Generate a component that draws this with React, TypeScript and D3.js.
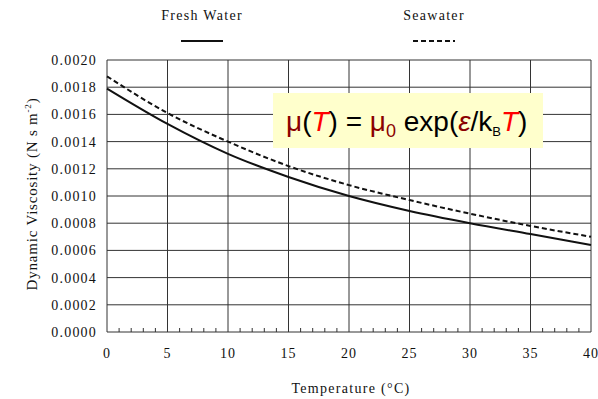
import React, { useRef, useEffect } from 'react';
import * as d3 from 'd3';

// temperature (°C)
const temps = [0, 5, 10, 15, 20, 25, 30, 35, 40];
// dynamic viscosity (N s m^-2)
const freshWater = [0.00179, 0.00153, 0.00131, 0.00114, 0.00100, 0.00089, 0.00080, 0.00072, 0.00064];
const seawater = [0.00188, 0.00161, 0.00140, 0.00122, 0.00108, 0.00097, 0.00087, 0.00078, 0.00070];
const yTicks = [0, 0.0002, 0.0004, 0.0006, 0.0008, 0.001, 0.0012, 0.0014, 0.0016, 0.0018, 0.002];
const xTicks = [0, 5, 10, 15, 20, 25, 30, 35, 40];

const W = 598;
const H = 399;
const serif = '"Liberation Serif", "Times New Roman", serif';

const App = () => {
  const ref = useRef<SVGSVGElement>(null);

  useEffect(() => {
    const svg = d3.select(ref.current);
    svg.selectAll('*').remove();

    const x = d3.scaleLinear().domain([0, 40]).range([107, 591]);
    const y = d3.scaleLinear().domain([0, 0.002]).range([332, 60]);

    svg.append('rect').attr('width', W).attr('height', H).attr('fill', '#fff');

    // grid
    svg.selectAll('.hgrid')
      .data(yTicks)
      .enter()
      .append('line')
      .attr('x1', x(0)).attr('x2', x(40))
      .attr('y1', d => y(d)).attr('y2', d => y(d))
      .attr('stroke', '#333').attr('stroke-width', 1);

    svg.selectAll('.vgrid')
      .data(xTicks)
      .enter()
      .append('line')
      .attr('x1', d => x(d)).attr('x2', d => x(d))
      .attr('y1', y(0)).attr('y2', y(0.002))
      .attr('stroke', '#333').attr('stroke-width', 1);

    // minor ticks on the bottom axis
    svg.selectAll('.minor')
      .data(d3.range(0, 41, 1).filter(d => d % 5 !== 0))
      .enter()
      .append('line')
      .attr('x1', d => x(d)).attr('x2', d => x(d))
      .attr('y1', y(0)).attr('y2', y(0) - 4)
      .attr('stroke', '#333').attr('stroke-width', 1);

    // tick labels
    svg.selectAll('.ylab')
      .data(yTicks)
      .enter()
      .append('text')
      .attr('x', 97)
      .attr('y', d => y(d) + 5)
      .attr('text-anchor', 'end')
      .attr('font-family', serif)
      .attr('font-size', 14)
      .attr('letter-spacing', 1.2)
      .attr('fill', '#111')
      .text(d => d.toFixed(4));

    svg.selectAll('.xlab')
      .data(xTicks)
      .enter()
      .append('text')
      .attr('x', d => x(d))
      .attr('y', 358)
      .attr('text-anchor', 'middle')
      .attr('font-family', serif)
      .attr('font-size', 14)
      .attr('letter-spacing', 1)
      .attr('fill', '#111')
      .text(d => d);

    // axis titles
    svg.append('text')
      .attr('x', 351).attr('y', 393)
      .attr('text-anchor', 'middle')
      .attr('font-family', serif)
      .attr('font-size', 14)
      .attr('letter-spacing', 1.3)
      .attr('fill', '#111')
      .text('Temperature (°C)');

    const yt = svg.append('text')
      .attr('transform', 'translate(37,194) rotate(-90)')
      .attr('text-anchor', 'middle')
      .attr('font-family', serif)
      .attr('font-size', 15)
      .attr('letter-spacing', 0.8)
      .attr('fill', '#111');
    yt.append('tspan').text('Dynamic Viscosity (N s m');
    yt.append('tspan').attr('dy', -6).attr('font-size', 9).text('-2');
    yt.append('tspan').attr('dy', 6).text(')');

    // curves
    const line = d3.line<number>()
      .x((d, i) => x(temps[i]))
      .y(d => y(d))
      .curve(d3.curveMonotoneX);

    svg.append('path')
      .datum(seawater)
      .attr('d', line)
      .attr('fill', 'none')
      .attr('stroke', '#111')
      .attr('stroke-width', 2)
      .attr('stroke-dasharray', '5,3');

    svg.append('path')
      .datum(freshWater)
      .attr('d', line)
      .attr('fill', 'none')
      .attr('stroke', '#111')
      .attr('stroke-width', 2);

    // legend
    const legend = [
      { label: 'Fresh Water', cx: 202, dash: null },
      { label: 'Seawater', cx: 434, dash: '5,3' },
    ];
    legend.forEach(l => {
      svg.append('text')
        .attr('x', l.cx).attr('y', 20)
        .attr('text-anchor', 'middle')
        .attr('font-family', serif)
        .attr('font-size', 14)
        .attr('letter-spacing', 1.3)
        .attr('fill', '#111')
        .text(l.label);
      svg.append('line')
        .attr('x1', l.cx - 21).attr('x2', l.cx + 21)
        .attr('y1', 41).attr('y2', 41)
        .attr('stroke', '#111').attr('stroke-width', 2)
        .attr('stroke-dasharray', l.dash);
    });

    // formula box
    svg.append('rect')
      .attr('x', 273).attr('y', 93)
      .attr('width', 270).attr('height', 55)
      .attr('fill', '#ffffcc');

    const dark = '#8b0000';
    const red = '#ff0000';
    const f = svg.append('text')
      .attr('x', 286).attr('y', 131)
      .attr('font-family', 'Arial, "Liberation Sans", sans-serif')
      .attr('font-size', 28)
      .attr('fill', '#000');
    f.append('tspan').attr('fill', dark).text('μ');
    f.append('tspan').text('(');
    f.append('tspan').attr('fill', red).attr('font-style', 'italic').text('T');
    f.append('tspan').text(') = ');
    f.append('tspan').attr('fill', dark).text('μ');
    f.append('tspan').attr('fill', dark).attr('font-size', 18).attr('dy', 6).text('0');
    f.append('tspan').attr('dy', -6).text(' exp(');
    f.append('tspan').attr('fill', dark).attr('font-style', 'italic').text('ε');
    f.append('tspan').text('/k');
    f.append('tspan').attr('font-size', 13).attr('dy', 5).text('B');
    f.append('tspan').attr('fill', red).attr('font-style', 'italic').attr('dy', -5).text('T');
    f.append('tspan').text(')');
  }, []);

  return (
    <svg
      ref={ref}
      width={W}
      height={H}
      style={{ position: 'absolute', left: 0, top: 0, display: 'block' }}
    />
  );
};

export default App;
